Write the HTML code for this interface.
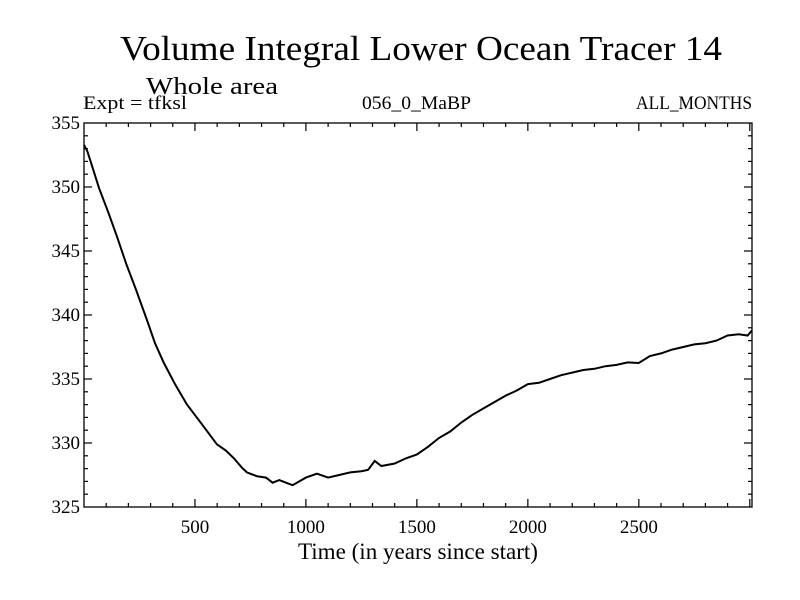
<!DOCTYPE html>
<html><head><meta charset="utf-8"><style>
body{margin:0;background:#fff;}
svg{display:block;font-family:"Liberation Serif",serif;}
</style></head><body>
<svg id="chart" width="800" height="600">
<text x="120" y="60" font-size="35" textLength="602" lengthAdjust="spacingAndGlyphs">Volume Integral Lower Ocean Tracer 14</text>
<text x="146" y="94" font-size="24" textLength="132" lengthAdjust="spacingAndGlyphs">Whole area</text>
<text x="83" y="109" font-size="19" textLength="104" lengthAdjust="spacingAndGlyphs">Expt = tfksl</text>
<text x="362" y="109" font-size="19" textLength="109" lengthAdjust="spacingAndGlyphs">056_0_MaBP</text>
<text x="636" y="109" font-size="19" textLength="116" lengthAdjust="spacingAndGlyphs">ALL_MONTHS</text>
<text x="298" y="559" font-size="23" textLength="240" lengthAdjust="spacingAndGlyphs">Time (in years since start)</text>
<g id="axes"></g>
<path id="line" fill="none" stroke="#000" stroke-width="2"/>
<rect x="84" y="123" width="668" height="384" fill="none" stroke="#000" stroke-width="1.3"/>
</svg>
<script>
const years=[0,15,35,68,110,149,190,234,284,320,360,410,464,530,599,640,676,710,734,780,820,850,880,910,940,970,1000,1050,1100,1150,1200,1250,1280,1310,1340,1400,1450,1500,1550,1600,1650,1700,1750,1800,1850,1900,1950,2000,2050,2100,2150,2200,2250,2300,2350,2400,2450,2500,2550,2600,2650,2700,2750,2800,2850,2900,2950,2990,3010];
const values=[353.3,352.8,351.7,349.9,348.0,346.1,344.0,342.0,339.6,337.8,336.25,334.6,333.0,331.5,329.9,329.4,328.8,328.1,327.7,327.4,327.3,326.9,327.1,326.9,326.7,327.0,327.3,327.6,327.3,327.5,327.7,327.8,327.9,328.6,328.2,328.4,328.8,329.1,329.7,330.4,330.9,331.6,332.2,332.7,333.2,333.7,334.1,334.6,334.7,335.0,335.3,335.5,335.7,335.8,336.0,336.1,336.3,336.25,336.8,337.0,337.3,337.5,337.7,337.8,338.0,338.4,338.5,338.4,338.8];
const xTicks=[500,1000,1500,2000,2500];
const yTicks=[325,330,335,340,345,350,355];
const L=84,R=752,T=123,B=507,X0=0,X1=3010,Y0=325,Y1=355;
const sx=v=>L+(v-X0)/(X1-X0)*(R-L);
const sy=v=>B-(v-Y0)/(Y1-Y0)*(B-T);
const ns="http://www.w3.org/2000/svg";
const ax=document.getElementById('axes');
function ln(x1,y1,x2,y2){const l=document.createElementNS(ns,'line');l.setAttribute('x1',x1);l.setAttribute('y1',y1);l.setAttribute('x2',x2);l.setAttribute('y2',y2);l.setAttribute('stroke','#000');l.setAttribute('stroke-width','1.2');


ax.appendChild(l);}
function tx(x,y,s,a){const t=document.createElementNS(ns,'text');t.setAttribute('x',x);t.setAttribute('y',y);t.setAttribute('font-size','19');t.setAttribute('text-anchor',a);t.textContent=s;


ax.appendChild(t);}
for(let v=100;v<X1;v+=100){const x=sx(v);const len=v%500===0?8:4;ln(x,B,x,B-len);ln(x,T,x,T+len);}
xTicks.forEach(v=>tx(sx(v),533,String(v),'middle'));
for(let v=Y0+1;v<Y1;v++){const y=sy(v);const len=v%5===0?8:4;ln(L,y,L+len,y);ln(R,y,R-len,y);}
yTicks.forEach(v=>tx(L-4,sy(v)+6,String(v),'end'));
let d='';years.forEach((y,i)=>{d+=(i?'L':'M')+sx(y).toFixed(1)+' '+sy(values[i]).toFixed(1);});
document.getElementById('line').setAttribute('d',d);
</script>
</body></html>
